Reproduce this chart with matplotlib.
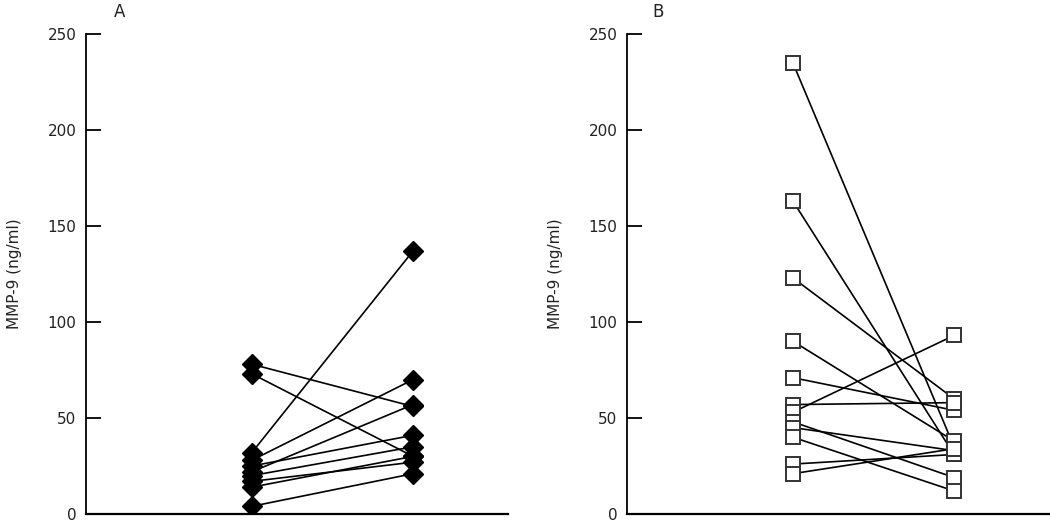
import matplotlib.pyplot as plt

# MMP-9 (ng/ml) per subject, before (x=1) and after (x=2)
a_before = [78, 73, 32, 28, 22, 25, 20, 17, 14, 4]
a_after = [56, 30, 137, 70, 57, 41, 35, 27, 30, 21]

b_before = [235, 163, 123, 90, 71, 57, 53, 48, 45, 40, 26, 21]
b_after = [35, 31, 60, 38, 54, 58, 93, 19, 33, 12, 31, 34]

yticks = [0, 50, 100, 150, 200, 250]
panels = ['A', 'B']

fig = plt.figure(figsize=(10.5, 5.24), dpi=100)
ax_a = fig.add_axes([86 / 1050, 10 / 524, 422 / 1050, 480 / 524])
ax_b = fig.add_axes([627 / 1050, 10 / 524, 422 / 1050, 480 / 524])


def style(ax, letter, lx):
    ax.set_xlim(-0.029, 2.589)
    ax.set_ylim(0, 250)
    ax.set_yticks(yticks)
    ax.set_xticks([])
    ax.spines['top'].set_visible(False)
    ax.spines['right'].set_visible(False)
    ax.spines['left'].set_linewidth(1.3)
    ax.spines['bottom'].set_linewidth(1.6)
    ax.tick_params(axis='y', direction='in', length=11, width=1.3,
                   pad=7, labelsize=11, labelcolor='#222222')
    ax.set_ylabel('MMP-9 (ng/ml)', fontsize=11, color='#222222', labelpad=18)
    ax.text(lx, 1.046, letter, transform=ax.transAxes, fontsize=12,
            ha='center', va='center', color='#222222')


for b, a in zip(a_before, a_after):
    ax_a.plot([1, 2], [b, a], color='black', lw=1.2, zorder=2,
              marker='D', markersize=10, markerfacecolor='black',
              markeredgecolor='black')
style(ax_a, panels[0], 0.08)

for b, a in zip(b_before, b_after):
    ax_b.plot([1, 2], [b, a], color='black', lw=1.2, zorder=2)
for b, a in zip(b_before, b_after):
    ax_b.plot([1, 2], [b, a], ls='none', marker='s', markersize=10.5,
              markerfacecolor='white', markeredgecolor='#333333',
              markeredgewidth=1.4, zorder=3)
style(ax_b, panels[1], 0.073)

plt.savefig('out.png', dpi=100)
